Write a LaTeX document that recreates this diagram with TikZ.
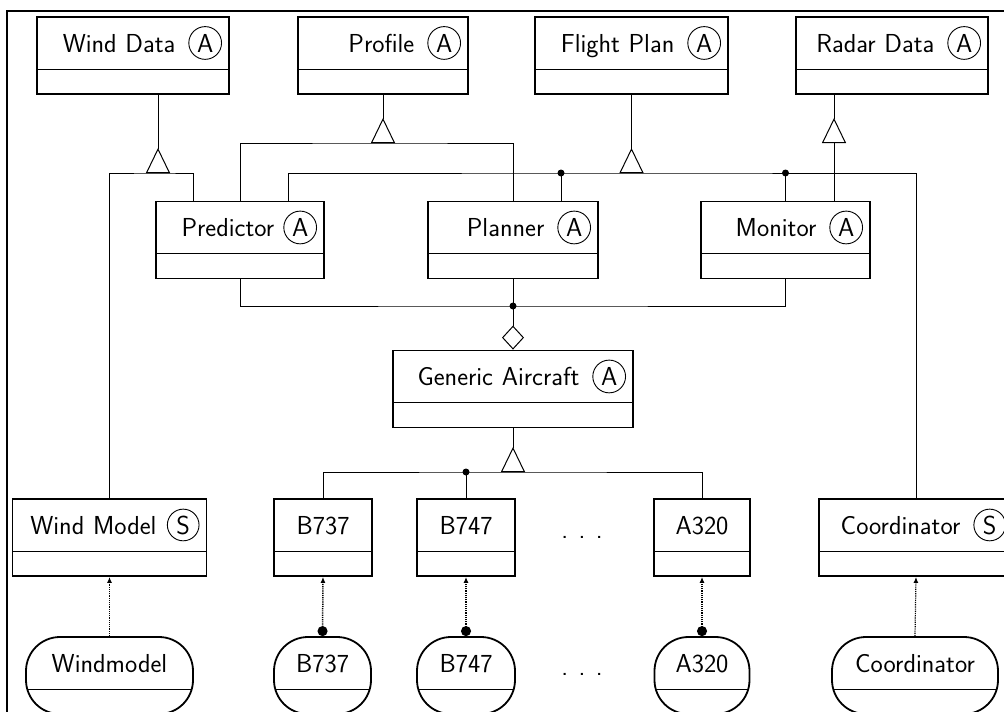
\documentclass[tikz,border=0pt]{standalone}
\usepackage{tikz}
\usetikzlibrary{shapes,arrows.meta}

\newcommand{\stereo}[1]{\tikz[baseline=(st.base)]\node[shape=circle, draw, line width=0.9pt, inner sep=3pt, minimum size=0pt, text width=, text height=, text depth=, align=center] (st) {#1};}
\newcommand{\moredots}{.\hspace{0.4em}.\hspace{0.4em}.}

\begin{document}
\begin{tikzpicture}[
  x=1pt, y=-1pt,
  font=\sffamily\fontsize{26}{30}\selectfont,
  class/.style={rectangle, draw, line width=1.8pt, inner xsep=7pt, inner ysep=0pt, text height=35pt, text depth=42pt, align=right,
    path picture={\draw[line width=0.9pt] ([yshift=25pt]path picture bounding box.south west) -- ([yshift=25pt]path picture bounding box.south east);}},
  leaf/.style={class, align=center},
  object/.style={leaf, rounded corners=34pt},
  line/.style={draw, line width=1pt},
  gen/.style={line, arrows={Triangle[open, reversed, length=25pt, width=24pt, line width=1pt]-}},
  agg/.style={line, arrows={-Diamond[open, length=24pt, width=22pt, line width=1pt]}},
  inst/.style={line, line width=1.2pt, densely dotted, arrows={-Latex[length=6pt, width=5pt]}},
  link/.style={inst, line width=1.5pt, arrows={Circle[length=10pt]-Latex[length=6pt, width=5pt]}},
  dot/.style={circle, fill, inner sep=0pt, minimum size=7pt},
  frame/.style={draw, line width=2.4pt}
]
\useasboundingbox (0,0) rectangle (1004,712);
\clip (0,0) rectangle (1004,712);
\path[frame] (7,11) rectangle (1014,722);

% data classes
\node [class, text width=178pt] (winddata) at (133,55.5) {Wind Data\hspace{.5em}\stereo{A}};
\node [class, text width=156pt] (profile) at (383,55.5) {Profile\hspace{.5em}\stereo{A}};
\node [class, text width=179pt] (flightplan) at (631.5,55.5) {Flight Plan\hspace{.5em}\stereo{A}};
\node [class, text width=178pt] (radardata) at (892,55.5) {Radar Data\hspace{.5em}\stereo{A}};

% tools
\node [class, text width=154pt] (predictor) at (240,240) {Predictor\hspace{.35em}\stereo{A}};
\node [class, text width=156pt] (planner) at (513,240) {Planner\hspace{.5em}\stereo{A}};
\node [class, text width=155pt] (monitor) at (785.5,240) {Monitor\hspace{.5em}\stereo{A}};
\node [class, text width=226pt] (generic) at (513,389) {Generic Aircraft\hspace{.5em}\stereo{A}};

% concrete classes
\node [class, text width=180pt] (windmodel) at (109.5,537.5) {Wind Model\hspace{.4em}\stereo{S}};
\node [leaf, text width=84pt] (b737c) at (323,537.5) {B737};
\node [leaf, text width=84pt] (b747c) at (466,537.5) {B747};
\node [leaf, text width=82pt] (a320c) at (702,537.5) {A320};
\node [class, text width=180pt] (coordinator) at (916,537.5) {Coordinator\hspace{.5em}\stereo{S}};
\node [anchor=base] (moreclasses) at (582,538) {\moredots};

% objects
\node [object, text width=153pt] (windobj) at (109.5,675.5) {Windmodel};
\node [object, text width=83pt] (b737o) at (322.5,675.5) {B737};
\node [object, text width=84pt] (b747o) at (466,675.5) {B747};
\node [object, text width=81pt] (a320o) at (702,675.5) {A320};
\node [object, text width=152pt] (coordobj) at (915,675.5) {Coordinator};
\node [anchor=base] (moreobjects) at (582,675) {\moredots};

% joints
\coordinate (wbar) at (158,173);
\coordinate (pbar) at (profile.south |- 0,143);
\coordinate (fbar) at (flightplan.south |- 0,173);
\coordinate (predW) at ([xshift=-47pt]predictor.north);
\coordinate (predF) at ([xshift=48pt]predictor.north);
\coordinate (planF) at ([xshift=48pt]planner.north);
\coordinate (monR) at ([xshift=48.5pt]monitor.north);
\coordinate (rbar) at (monR |- 0,143);
\coordinate (abar) at (planner.south |- 0,306);
\coordinate (gbar) at (generic.south |- 0,472);

\path [line] (windmodel.north) |- (wbar) -| (predW);
\path [gen] (wbar) -- (wbar |- winddata.south);
\path [line] (predictor.north) |- (pbar) -| (planner.north);
\path [gen] (pbar) -- (profile.south);
\path [line] (predF) |- (fbar) -| (coordinator.north);
\path [line] (planF) -- (planF |- fbar) node [dot] (j1) {};
\path [line] (monitor.north) -- (monitor.north |- fbar) node [dot] (j2) {};
\path [gen] (fbar) -- (flightplan.south);
\path [line] (monR) -- (rbar);
\path [gen] (rbar) -- (rbar |- radardata.south);

\path [line] (predictor.south) |- (abar) -| (monitor.south);
\path [line] (planner.south) -- (abar) node [dot] (j3) {};
\path [agg] (abar) -- (generic.north);

\path [line] (b737c.north) |- (gbar) -| (a320c.north);
\path [line] (b747c.north) -- (b747c.north |- gbar) node [dot] (j4) {};
\path [gen] (gbar) -- (generic.south);

\path [inst] (windobj.north) -- (windmodel.south);
\path [link] (b737o.north) -- (b737c.south);
\path [link] (b747o.north) -- (b747c.south);
\path [link] (a320o.north) -- (a320c.south);
\path [inst] (coordobj.north) -- (coordinator.south);

\end{tikzpicture}
\end{document}
